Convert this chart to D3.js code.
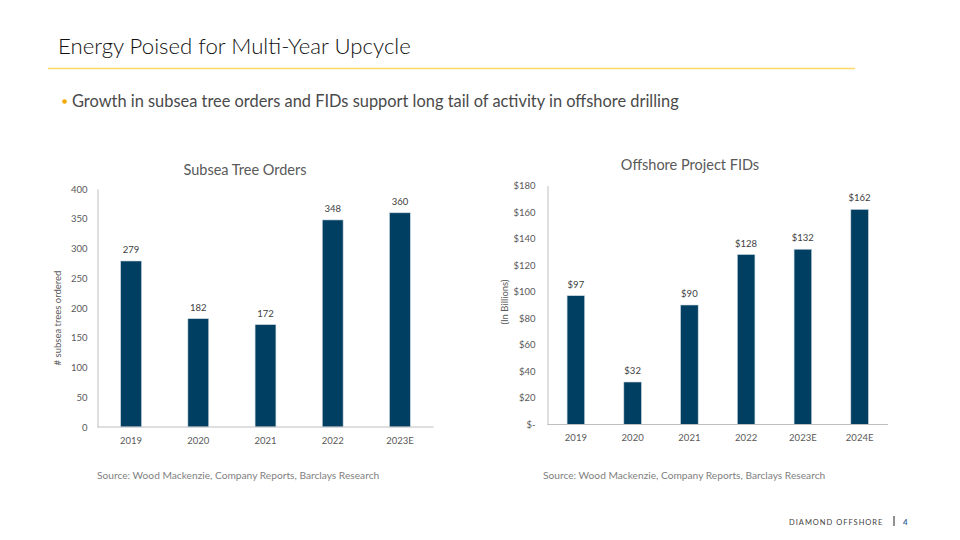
<!DOCTYPE html>
<html><head><meta charset="utf-8">
<script src="https://cdn.jsdelivr.net/npm/d3@7"></script>
<style>
body{margin:0;background:#fff;}
svg{display:block;font-family:Lato,"Open Sans",sans-serif;}
</style></head>
<body>
<svg id="c" width="960" height="540"></svg>
<script>
const treeYears = ["2019","2020","2021","2022","2023E"];
const treeOrders = [279,182,172,348,360];
const treeTicks = [0,50,100,150,200,250,300,350,400];

const fidYears = ["2019","2020","2021","2022","2023E","2024E"];
const fidValues = [97,32,90,128,132,162];
const fidTicks = [0,20,40,60,80,100,120,140,160,180];

const svg = d3.select("#c");
const barColor = "#003F62";
const textGray = "#595959";

// Header
svg.append("text").attr("x",58).attr("y",54).attr("font-size",22.2).attr("font-weight",300)
  .attr("fill","#111").text("Energy Poised for Multi-Year Upcycle");
svg.append("line").attr("x1",48).attr("x2",855).attr("y1",68.5).attr("y2",68.5)
  .attr("stroke","#FFD966").attr("stroke-width",1.5);
svg.append("circle").attr("cx",64.5).attr("cy",101.5).attr("r",2.3).attr("fill","#F5A800");
svg.append("text").attr("x",72).attr("y",107).attr("font-size",16.4).attr("fill","#4a4a4a")
  .text("Growth in subsea tree orders and FIDs support long tail of activity in offshore drilling");

function chart(cfg){
  const g = svg.append("g");
  const x = d3.scaleBand().domain(cfg.cats).range([cfg.x0,cfg.x1]).paddingInner(0.69).paddingOuter(0.345);
  const y = d3.scaleLinear().domain([0,cfg.max]).range([cfg.y0,cfg.yTop]);
  // axes
  const yAx = g.append("g").attr("transform",`translate(${cfg.x0},0)`)
    .call(d3.axisLeft(y).tickValues(cfg.ticks).tickSize(0).tickPadding(cfg.tickPad).tickFormat(cfg.fmt));
  yAx.select(".domain").attr("stroke","#BFBFBF");
  yAx.selectAll("text").attr("font-size",9.5).attr("fill",textGray).attr("font-family","Lato,'Open Sans',sans-serif");
  // bars
  g.selectAll("rect.bar").data(cfg.cats).enter().append("rect")
    .attr("x",d=>x(d)).attr("width",x.bandwidth())
    .attr("y",(d,i)=>y(cfg.vals[i])).attr("height",(d,i)=>cfg.y0-y(cfg.vals[i]))
    .attr("fill",barColor).attr("stroke","#c9d6df").attr("stroke-width",0.6);
  const xAx = g.append("g").attr("transform",`translate(0,${cfg.y0})`)
    .call(d3.axisBottom(x).tickSize(0).tickPadding(10));
  xAx.select(".domain").attr("stroke","#BFBFBF").attr("d",`M${cfg.x0},0H${cfg.x1}`);
  xAx.selectAll("text").attr("font-size",9.5).attr("fill",textGray).attr("font-family","Lato,'Open Sans',sans-serif");
  // labels
  g.selectAll("text.val").data(cfg.cats).enter().append("text")
    .attr("x",d=>x(d)+x.bandwidth()/2).attr("y",(d,i)=>y(cfg.vals[i])-8)
    .attr("text-anchor","middle").attr("font-size",9.5).attr("fill","#404040")
    .text((d,i)=>cfg.valFmt(cfg.vals[i]));
  // title
  g.append("text").attr("x",cfg.titleX).attr("y",cfg.titleY).attr("text-anchor","middle")
    .attr("font-size",14.5).attr("fill",textGray).text(cfg.title);
  // y label
  g.append("text").attr("transform",`translate(${cfg.ylabX},${cfg.ylabY}) rotate(-90)`)
    .attr("text-anchor","middle").attr("font-size",9.5).attr("fill",textGray).text(cfg.ylab);
  // source
  g.append("text").attr("x",cfg.srcX).attr("y",479).attr("font-size",10.2).attr("fill","#7F7F7F")
    .text("Source: Wood Mackenzie, Company Reports, Barclays Research");
}

chart({cats:treeYears, vals:treeOrders, ticks:treeTicks, max:400,
  x0:97.5, x1:433.5, y0:427, yTop:189, tickPad:10, fmt:d=>d, valFmt:d=>d,
  title:"Subsea Tree Orders", titleX:245, titleY:175,
  ylab:"# subsea trees ordered", ylabX:61, ylabY:318, srcX:97});

chart({cats:fidYears, vals:fidValues, ticks:fidTicks, max:180,
  x0:547.5, x1:888, y0:424.5, yTop:185.5, tickPad:12, fmt:d=>d===0?"$-":"$"+d, valFmt:d=>"$"+d,
  title:"Offshore Project FIDs", titleX:690, titleY:170,
  ylab:"(In Billions)", ylabX:508, ylabY:302, srcX:543});

// footer
svg.append("text").attr("x",789).attr("y",525).attr("font-size",7.5).attr("letter-spacing",1.0)
  .attr("fill","#404040").text("DIAMOND OFFSHORE");
svg.append("line").attr("x1",894).attr("x2",894).attr("y1",516).attr("y2",526).attr("stroke","#222").attr("stroke-width",1);
svg.append("text").attr("x",903).attr("y",525).attr("font-size",8).attr("font-weight",700).attr("fill","#3C6E9A").text("4");
</script>
</body></html>
